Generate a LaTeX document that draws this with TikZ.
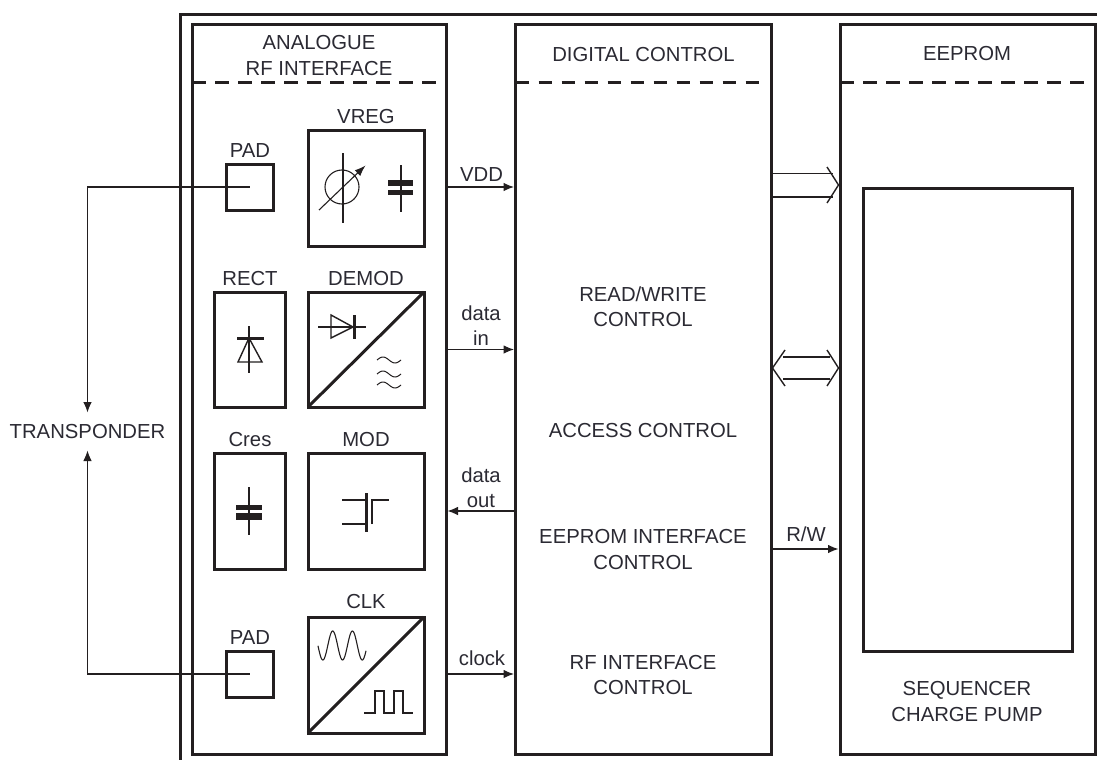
\documentclass[tikz,border=0pt]{standalone}
\usepackage{fontspec}
\setmainfont{Liberation Sans}
\usetikzlibrary{arrows.meta,fit}
\definecolor{ink}{HTML}{231F20}
\definecolor{txt}{HTML}{2B2A33}
\tikzset{
  panel/.style={draw=ink,line width=3pt,inner sep=0pt,outer sep=0pt,rectangle},
  lbl/.style={text=txt,inner sep=0pt,outer sep=0pt,align=center,yshift=-0.5pt,font=\fontsize{20.3}{25.4}\selectfont},
  thin line/.style={draw=ink,line width=1.1pt},
  mid line/.style={draw=ink,line width=1.4pt},
  thick line/.style={draw=ink,line width=3pt},
  sep line/.style={draw=ink,line width=3pt,dash pattern=on 13.5pt off 9.5pt},
  flow/.style={draw=ink,line width=1.1pt,-{Latex[length=10.5pt,width=8.5pt]},shorten >=1.5pt},
}
\begin{document}
\begin{tikzpicture}[x=1pt,y=-1pt]
\useasboundingbox (0,0) rectangle (1097,760);
\fill[white] (0,0) rectangle (1097,760);
% outer open frame
\coordinate (frameTR) at (1097,14.5);
\coordinate (frameTL) at (180.5,14.5);
\coordinate (frameBL) at (180.5,760);
\draw[thick line] (frameTR) -- (frameTL) -- (frameBL);
% panels
\node[panel,fit={(192,25)(446,754)}] (analog) {};
\node[panel,fit={(515.5,25)(771,754)}] (digital) {};
\node[panel,fit={(840,25)(1095,754)}] (eeprom) {};
\coordinate (hd) at (0,82);
\draw[sep line] (analog.west |- hd) -- ++(245,0);
\draw[sep line] (digital.west |- hd) -- ++(245,0);
\draw[sep line] (eeprom.west |- hd) -- ++(245,0);
% blocks
\node[panel,fit={(226,164)(273,210)}] (pad1) {};
\node[panel,fit={(308,130)(424,246)}] (vreg) {};
\node[panel,fit={(214,292)(285,407)}] (rect) {};
\node[panel,fit={(308,292)(424,407)}] (demod) {};
\node[panel,fit={(214,453)(285,569)}] (cres) {};
\node[panel,fit={(308,453)(424,569)}] (mod) {};
\node[panel,fit={(226,651)(273,697)}] (pad2) {};
\node[panel,fit={(308,617)(424,733)}] (clk) {};
\node[panel,fit={(863,188)(1072,651)}] (mem) {};
% headings
\node[lbl] (tAnalog) at (319,55) {ANALOGUE\\RF INTERFACE};
\node[lbl] (tDigital) at (643.5,54) {DIGITAL CONTROL};
\node[lbl] (tEeprom) at (967,53) {EEPROM};
\node[lbl] (tVreg) at (366,116) {VREG};
\node[lbl] (tPad1) at (250,150) {PAD};
\node[lbl] (tRect) at (250,278) {RECT};
\node[lbl] (tDemod) at (366,278) {DEMOD};
\node[lbl] (tCres) at (250,439) {Cres};
\node[lbl] (tMod) at (366,439) {MOD};
\node[lbl] (tPad2) at (250,637) {PAD};
\node[lbl] (tClk) at (366,601) {CLK};
\node[lbl] (tRw) at (643,306) {READ/WRITE\\CONTROL};
\node[lbl] (tAccess) at (643,430) {ACCESS CONTROL};
\node[lbl] (tEif) at (643,549) {EEPROM INTERFACE\\CONTROL};
\node[lbl] (tRf) at (643,674.5) {RF INTERFACE\\CONTROL};
\node[lbl] (tSeq) at (967,701) {SEQUENCER\\CHARGE PUMP};
\node[lbl] (lVdd) at (481.5,174) {VDD};
\node[lbl] (lIn) at (481,325) {data\\in};
\node[lbl] (lOut) at (481,487) {data\\out};
\node[lbl] (lClock) at (482,658) {clock};
\node[lbl] (lRW) at (806,534) {R/W};
\node[lbl,minimum height=35pt] (trans) at (87.5,431) {TRANSPONDER};
% wires
\draw[flow] (pad1.center) -| (trans.north);
\draw[flow] (pad2.center) -| (trans.south);
\draw[flow] (analog.east |- pad1) -- (digital.west |- pad1);
\draw[flow] (analog.east |- demod) -- (digital.west |- demod);
\draw[flow] (digital.west |- mod) -- (analog.east |- mod);
\draw[flow] (analog.east |- pad2) -- (digital.west |- pad2);
\coordinate (rw) at (0,549);
\draw[flow] (digital.east |- rw) -- (eeprom.west |- rw);
% bus arrows
\draw[thin line] (digital.east |- 0,173.5) -- (833,173.5);
\draw[thin line] (digital.east |- 0,197) -- (833,197);
\draw[mid line] (827,167) -- (838.5,185) -- (827,203);
\draw[thin line] (783,357) -- (830,357);
\draw[thin line] (783,379) -- (830,379);
\draw[mid line] (785,350) -- (772.5,368) -- (785,386);
\draw[mid line] (827,350) -- (838.5,368) -- (827,386);
% VREG symbols
\draw[thin line] (342,187) circle (17);
\draw[thin line] (343,153) -- (343,223);
\draw[thin line,-{Latex[length=11pt,width=8pt]}] (319,210) -- (365.5,165.5);
\draw[thin line] (401,165) -- (401,212);
\fill[ink] (388,180) rectangle (413,186);
\fill[ink] (388,189.5) rectangle (413,195);
% RECT diode
\draw[thin line] (249,326) -- (249,373);
\draw[thick line] (237,338) -- (264,338);
\draw[mid line] (249,338) -- (238,362) -- (262,362) -- cycle;
% DEMOD
\draw[thick line] (308,407) -- (424,292);
\draw[thin line] (318,327) -- (366,327);
\draw[mid line] (331,315) -- (331,338) -- (353,327) -- cycle;
\draw[thick line] (354,315) -- (354,339);
\foreach \yy in {360,374,385}
  \draw[draw=ink,line width=1pt] plot[domain=377:401,samples=30,smooth] (\x,{\yy-3*sin(360*(\x-377)/24)});
% Cres
\draw[thin line] (249,487) -- (249,535);
\fill[ink] (236,505) rectangle (262,510);
\fill[ink] (236,513) rectangle (262,520);
% MOD
\draw[thick line] (366,493) -- (366,532);
\draw[thin line] (342,500) -- (366,500);
\draw[thin line] (342,524) -- (366,524);
\draw[mid line] (372,524) -- (372,500) -- (389,500);
% CLK
\draw[thick line] (308,733) -- (424,617);
\draw[draw=ink,line width=1.1pt] plot[domain=318:366,samples=80,smooth] (\x,{645.5-14.5*cos(360*(\x-332.7)/19.7)});
\draw[thin line] (364,713) -- (375,713) -- (375,691) -- (384,691) -- (384,713) -- (394,713) -- (394,691) -- (403,691) -- (403,713) -- (413,713);
\end{tikzpicture}
\end{document}
